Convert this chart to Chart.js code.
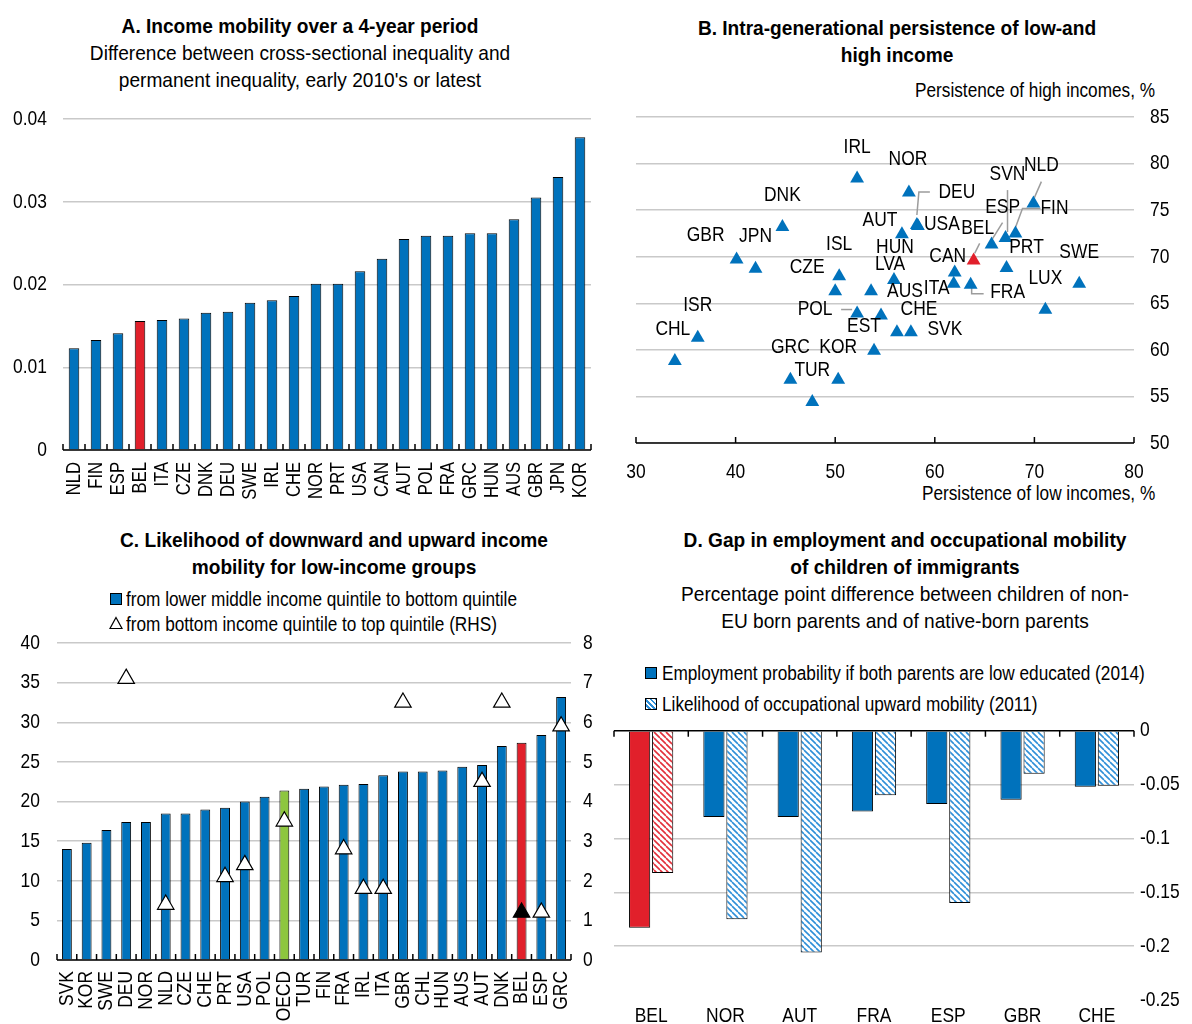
<!DOCTYPE html>
<html><head><meta charset="utf-8">
<script src="https://cdn.jsdelivr.net/npm/chart.js@4.4.1/dist/chart.umd.min.js"></script>
<style>
body{margin:0;background:#fff;width:1192px;height:1024px;overflow:hidden;position:relative;font-family:"Liberation Sans",Arial,sans-serif;color:#000}
.t{position:absolute;text-align:center;font-size:21px;line-height:27px;white-space:nowrap;transform:scaleX(0.91);transform-origin:50% 0}
.b{font-weight:bold}
.l{position:absolute;font-size:20px;line-height:24px;white-space:nowrap;transform:scaleX(0.86);transform-origin:0 0}
.r{transform-origin:100% 0}
.w{position:absolute}
canvas{display:block}
.sq{position:absolute;width:10px;height:10px;border:1px solid #000}
</style></head><body>

<div class="t" style="left:0;width:600px;top:12px"><span class="b">A. Income mobility over a 4-year period</span><br>Difference between cross-sectional inequality and<br>permanent inequality, early 2010's or latest</div>
<div class="t b" style="left:600px;width:594px;top:14px">B. Intra-generational persistence of low-and<br>high income</div>
<div class="l r" style="right:37px;top:78px">Persistence of high incomes, %</div>
<div class="l r" style="right:37px;top:481px">Persistence of low incomes, %</div>
<div class="t b" style="left:34px;width:600px;top:526px">C. Likelihood of downward and upward income<br>mobility for low-income groups</div>
<div class="sq" style="left:110px;top:593px;background:#0072BC"></div>
<div class="l" style="left:126px;top:587px">from lower middle income quintile to bottom quintile</div>
<svg class="w" style="left:109px;top:616px" width="14" height="14"><polygon points="7,1.5 13,12.5 1,12.5" fill="#fff" stroke="#000" stroke-width="1.2"/></svg>
<div class="l" style="left:126px;top:612px">from bottom income quintile to top quintile (RHS)</div>
<div class="t" style="left:605px;width:600px;top:526px"><span class="b">D. Gap in employment and occupational mobility<br>of children of immigrants</span><br>Percentage point difference between children of non-<br>EU born parents and of native-born parents</div>
<div class="sq" style="left:645px;top:667px;background:#0072BC"></div>
<div class="l" style="left:662px;top:661px">Employment probability if both parents are low educated (2014)</div>
<div class="sq" style="left:645px;top:698px;background:repeating-linear-gradient(45deg,#fff 0 2px,#2f8fd8 2px 3.6px)"></div>
<div class="l" style="left:662px;top:692px">Likelihood of occupational upward mobility (2011)</div>

<div class="w" style="left:0;top:100px"><canvas id="cA" width="600" height="410"></canvas></div>
<div class="w" style="left:600px;top:100px"><canvas id="cB" width="592" height="410"></canvas></div>
<div class="w" style="left:0;top:630px"><canvas id="cC" width="600" height="394"></canvas></div>
<div class="w" style="left:600px;top:720px"><canvas id="cD" width="592" height="304"></canvas></div>

<script>
// ---------- Panel A data ----------
const countriesA = ['NLD','FIN','ESP','BEL','ITA','CZE','DNK','DEU','SWE','IRL','CHE','NOR','PRT','USA','CAN','AUT','POL','FRA','GRC','HUN','AUS','GBR','JPN','KOR'];
const mobilityA = [0.0123,0.0133,0.0141,0.0156,0.0157,0.0159,0.0166,0.0167,0.0178,0.0181,0.0186,0.0201,0.0201,0.0216,0.0231,0.0255,0.0259,0.0259,0.0262,0.0262,0.0279,0.0305,0.0330,0.0378];
const ticksA = [0,0.01,0.02,0.03,0.04];

// ---------- Panel B data ----------
const namesB = ['IRL','NOR','DEU','USA','AUT','NLD','ESP','SVN','FIN','BEL','PRT','SWE','LUX','FRA','CAN','ITA','HUN','LVA','AUS','ISL','CZE','GBR','JPN','DNK','POL','CHE','SVK','EST','GRC','KOR','TUR','ISR','CHL'];
const lowIncomeB  = [52.2,57.4,58.2,58.3,56.7,69.9,65.7,67.1,68.1,63.9,67.2,74.5,71.1,63.6,62.0,61.9,55.9,53.6,54.6,50.4,50.0,40.1,42.0,44.7,52.2,56.2,57.6,53.9,45.5,50.3,47.7,36.2,33.9];
const highIncomeB = [78.4,76.9,73.4,73.3,72.4,75.7,71.3,72.0,72.5,69.6,68.8,67.1,64.3,67.0,68.3,67.1,67.5,66.3,63.7,67.9,66.3,69.7,68.7,73.2,63.9,61.9,61.9,59.9,56.8,56.8,54.4,61.3,58.8];
const ticksBx = [30,40,50,60,70,80];
const ticksBy = [50,55,60,65,70,75,80,85];

// ---------- Panel C data ----------
const countriesC = ['SVK','KOR','SWE','DEU','NOR','NLD','CZE','CHE','PRT','USA','POL','OECD','TUR','FIN','FRA','IRL','ITA','GBR','CHL','HUN','AUS','AUT','DNK','BEL','ESP','GRC'];
const downwardC = [14.0,14.8,16.4,17.4,17.4,18.5,18.5,19.0,19.2,20.0,20.6,21.4,21.6,21.9,22.1,22.2,23.3,23.8,23.8,23.9,24.4,24.6,27.0,27.4,28.4,33.2];
const upwardC = [null,null,null,7.1,null,1.4,null,null,2.1,2.4,null,3.5,null,null,2.8,1.8,1.8,6.5,null,null,null,4.5,6.5,1.2,1.2,5.9];

// ---------- Panel D data ----------
const countriesD = ['BEL','NOR','AUT','FRA','ESP','GBR','CHE'];
const employmentD = [-0.183,-0.080,-0.080,-0.075,-0.068,-0.064,-0.052];
const occupationalD = [-0.132,-0.175,-0.206,-0.060,-0.160,-0.040,-0.051];

// ---------- Styles ----------
const F = '"Liberation Sans",Arial,sans-serif';
Chart.defaults.font.family = F;
Chart.defaults.font.size = 21;
Chart.defaults.color = '#000';
const BLUE = '#0072BC', RED = '#E1202B', GREEN = '#8DC63F', GRID = '#c9c9c9';
const common = {responsive:false, animation:false, events:[],
  plugins:{legend:{display:false}, tooltip:{enabled:false}}};

// narrow-font look: text drawn horizontally condensed around its anchor
function condense(canvas, k){
  const ctx = canvas.getContext('2d');
  const ft = ctx.fillText, mt = ctx.measureText;
  ctx.fillText = function(t, x, y){ this.save(); this.translate(x, y); this.scale(k, 1); ft.call(this, t, 0, 0); this.restore(); };
  ctx.measureText = function(t){ const m = mt.call(this, t);
    return {width:m.width * k, actualBoundingBoxAscent:m.actualBoundingBoxAscent, actualBoundingBoxDescent:m.actualBoundingBoxDescent,
            actualBoundingBoxLeft:m.actualBoundingBoxLeft * k, actualBoundingBoxRight:m.actualBoundingBoxRight * k}; };
  return canvas;
}
const K = 0.83;
function noPadH(s, h){ s.height = h; s.paddingLeft = 0; s.paddingRight = 0; }
function noPadV(s, w){ s.width = w; s.paddingTop = 0; s.paddingBottom = 0; }

// draws the black axis line at a base value with short inner tick marks
const innerTicks = {
  id:'innerTicks',
  afterDatasetsDraw(chart, args, o){
    const xs = chart.scales.x, ys = chart.scales[o.yAxis || 'y'];
    const yb = ys.getPixelForValue(o.baseValue);
    const ctx = chart.ctx; ctx.save();
    ctx.strokeStyle = '#000'; ctx.lineWidth = 1.5;
    ctx.beginPath(); ctx.moveTo(chart.chartArea.left, yb); ctx.lineTo(chart.chartArea.right, yb); ctx.stroke();
    const px = [];
    if (o.tickValues) { o.tickValues.forEach(v => px.push(xs.getPixelForValue(v))); }
    else { const n = chart.data.labels.length; for (let i = 0; i <= n; i++) px.push(xs.left + i * xs.width / n); }
    ctx.beginPath();
    px.forEach(p => { ctx.moveTo(p, yb); ctx.lineTo(p, yb + o.dir * o.len); });
    ctx.stroke(); ctx.restore();
  }
};

// ---------- Chart A ----------
new Chart(condense(document.getElementById('cA'), K), {
  type:'bar',
  data:{labels:countriesA, datasets:[{data:mobilityA,
    backgroundColor:countriesA.map(c => c === 'BEL' ? RED : BLUE),
    borderColor:'#000', borderWidth:1, barPercentage:0.48, categoryPercentage:1}]},
  plugins:[innerTicks],
  options:{...common,
    layout:{padding:{left:0,right:9,top:19,bottom:0}},
    plugins:{...common.plugins, innerTicks:{baseValue:0, dir:-1, len:6}},
    scales:{
      x:{grid:{display:false}, border:{display:false},
         ticks:{autoSkip:false, maxRotation:90, minRotation:90, padding:4, font:{size:20}},
         afterFit(s){ noPadH(s, 60); }},
      y:{min:0, max:0.04, afterBuildTicks(s){ s.ticks = ticksA.map(v => ({value:v})); },
         grid:{color:GRID, lineWidth:1.5, drawTicks:false}, border:{display:false},
         ticks:{padding:16, callback:v => String(v)},
         afterFit(s){ noPadV(s, 63); }}
    }}
});

// ---------- Chart B ----------
const labelOffsetB = {IRL:[0,-29],NOR:[-1,-31],DEU:[40,-31],USA:[24,0],AUT:[-22,-12],NLD:[8,-36],ESP:[11,-35],SVN:[2,-62],FIN:[39,-23],BEL:[4,-30],PRT:[20,-19],SWE:[0,-30],LUX:[0,-30],FRA:[37,10],CAN:[-7,-14],ITA:[-17,6],HUN:[1,-31],LVA:[19,-25],AUS:[24,-22],ISL:[0,-30],CZE:[-28,-22],GBR:[-31,-22],JPN:[0,-31],DNK:[0,-30],POL:[-42,-2],CHE:[22,-21],SVK:[34,-1],EST:[-10,-23],GRC:[0,-30],KOR:[0,-30],TUR:[0,-30],ISR:[0,-31],CHL:[-2,-30]};
const leaderB = {DEU:[[13,-31],[2,-31],[0,-8]], NLD:[[8,-20],[1,-4]], ESP:[[11,-20],[1,-4]], SVN:[[2,-46],[2,-4]],
  FIN:[[25,-23],[7,-23],[0,-4]], BEL:[[6,-15],[1,-5]], FRA:[[1,5],[1,11],[13,11]], POL:[[-16,-2],[-5,-2]]};
const pointLabels = {
  id:'pointLabels',
  beforeDatasetsDraw(chart){
    const meta = chart.getDatasetMeta(0), ctx = chart.ctx;
    ctx.save(); ctx.strokeStyle = '#9c9c9c'; ctx.lineWidth = 1.5;
    meta.data.forEach((el, i) => {
      const lead = leaderB[namesB[i]]; if (!lead) return;
      const cy = el.y - 2;
      ctx.beginPath();
      lead.forEach((p, j) => { if (j) ctx.lineTo(el.x + p[0], cy + p[1]); else ctx.moveTo(el.x + p[0], cy + p[1]); });
      ctx.stroke();
    });
    ctx.restore();
  },
  afterDatasetsDraw(chart){
    const meta = chart.getDatasetMeta(0), ctx = chart.ctx;
    ctx.save(); ctx.font = '21px ' + F; ctx.fillStyle = '#000'; ctx.textAlign = 'center'; ctx.textBaseline = 'middle';
    meta.data.forEach((el, i) => {
      const n = namesB[i], off = labelOffsetB[n] || [0,-30];
      ctx.fillText(n, el.x + off[0], el.y - 2 + off[1]);
    });
    ctx.restore();
  }
};
new Chart(condense(document.getElementById('cB'), K), {
  type:'scatter',
  data:{datasets:[{data:namesB.map((n, i) => ({x:lowIncomeB[i], y:highIncomeB[i]})),
    pointStyle:'triangle', pointRadius:8, borderWidth:0,
    backgroundColor:namesB.map(n => n === 'BEL' ? RED : BLUE)}]},
  plugins:[innerTicks, pointLabels],
  options:{...common,
    layout:{padding:{left:36,right:0,top:17,bottom:0}},
    plugins:{...common.plugins, innerTicks:{baseValue:50, dir:-1, len:6, tickValues:ticksBx}},
    scales:{
      x:{type:'linear', min:30, max:80, afterBuildTicks(s){ s.ticks = ticksBx.map(v => ({value:v})); },
         grid:{display:false}, border:{display:false}, ticks:{padding:9},
         afterFit(s){ noPadH(s, 67); }},
      y:{position:'right', min:50, max:85, afterBuildTicks(s){ s.ticks = ticksBy.map(v => ({value:v})); },
         grid:{color:GRID, lineWidth:1.5, drawTicks:false}, border:{display:false},
         ticks:{padding:16},
         afterFit(s){ noPadV(s, 58); }}
    }}
});

// ---------- Chart C ----------
new Chart(condense(document.getElementById('cC'), K), {
  data:{labels:countriesC, datasets:[
    {type:'line', data:upwardC, yAxisID:'y2', showLine:false, order:0,
     pointStyle:'triangle', pointRadius:9.5, pointBorderColor:'#000', pointBorderWidth:1.2,
     pointBackgroundColor:countriesC.map(c => c === 'BEL' ? '#000' : '#fff')},
    {type:'bar', data:downwardC, yAxisID:'y', order:1,
     backgroundColor:countriesC.map(c => c === 'BEL' ? RED : (c === 'OECD' ? GREEN : BLUE)),
     borderColor:'#000', borderWidth:1, barPercentage:0.5, categoryPercentage:1}
  ]},
  plugins:[innerTicks],
  options:{...common,
    layout:{padding:{left:0,right:0,top:13,bottom:0}},
    plugins:{...common.plugins, innerTicks:{baseValue:0, dir:-1, len:6}},
    scales:{
      x:{grid:{display:false}, border:{display:false},
         ticks:{autoSkip:false, maxRotation:90, minRotation:90, padding:3},
         afterFit(s){ noPadH(s, 64); }},
      y:{position:'left', min:0, max:40, ticks:{stepSize:5, padding:17},
         grid:{color:GRID, lineWidth:1.5, drawTicks:false}, border:{display:false},
         afterFit(s){ noPadV(s, 57); }},
      y2:{position:'right', min:0, max:8, ticks:{stepSize:1, padding:12},
         grid:{display:false, drawTicks:false}, border:{display:false},
         afterFit(s){ noPadV(s, 29); }}
    }}
});

// ---------- Chart D ----------
function hatch(color){
  const c = document.createElement('canvas'); c.width = c.height = 6;
  const g = c.getContext('2d');
  g.fillStyle = '#fff'; g.fillRect(0, 0, 6, 6);
  g.strokeStyle = color; g.lineWidth = 1.6;
  g.beginPath(); g.moveTo(0,0); g.lineTo(6,6); g.moveTo(-6,0); g.lineTo(0,6); g.moveTo(6,0); g.lineTo(12,6); g.stroke();
  return g.createPattern(c, 'repeat');
}
const hatchBlue = hatch('#2f8fd8'), hatchRed = hatch('#e3303a');
new Chart(condense(document.getElementById('cD'), K), {
  type:'bar',
  data:{labels:countriesD, datasets:[
    {data:employmentD, backgroundColor:countriesD.map(c => c === 'BEL' ? RED : BLUE),
     borderColor:'#000', borderWidth:1, barPercentage:0.92, categoryPercentage:0.62},
    {data:occupationalD, backgroundColor:countriesD.map(c => c === 'BEL' ? hatchRed : hatchBlue),
     borderColor:'#000', borderWidth:1, barPercentage:0.92, categoryPercentage:0.62}
  ]},
  plugins:[innerTicks],
  options:{...common,
    layout:{padding:{left:14,right:0,top:10.7,bottom:0}},
    plugins:{...common.plugins, innerTicks:{baseValue:0, dir:1, len:6}},
    scales:{
      x:{grid:{display:false}, border:{display:false},
         ticks:{autoSkip:false, maxRotation:0, padding:-4},
         afterFit(s){ noPadH(s, 24); }},
      y:{position:'right', min:-0.25, max:0, ticks:{stepSize:0.05, padding:6, callback:v => String(Math.round(v * 100) / 100)},
         grid:{color:c => (c.tick && (c.tick.value <= -0.249 || c.tick.value === 0)) ? 'rgba(0,0,0,0)' : GRID, lineWidth:1.5, drawTicks:false},
         border:{display:false},
         afterFit(s){ noPadV(s, 58); }}
    }}
});
</script>
</body></html>
